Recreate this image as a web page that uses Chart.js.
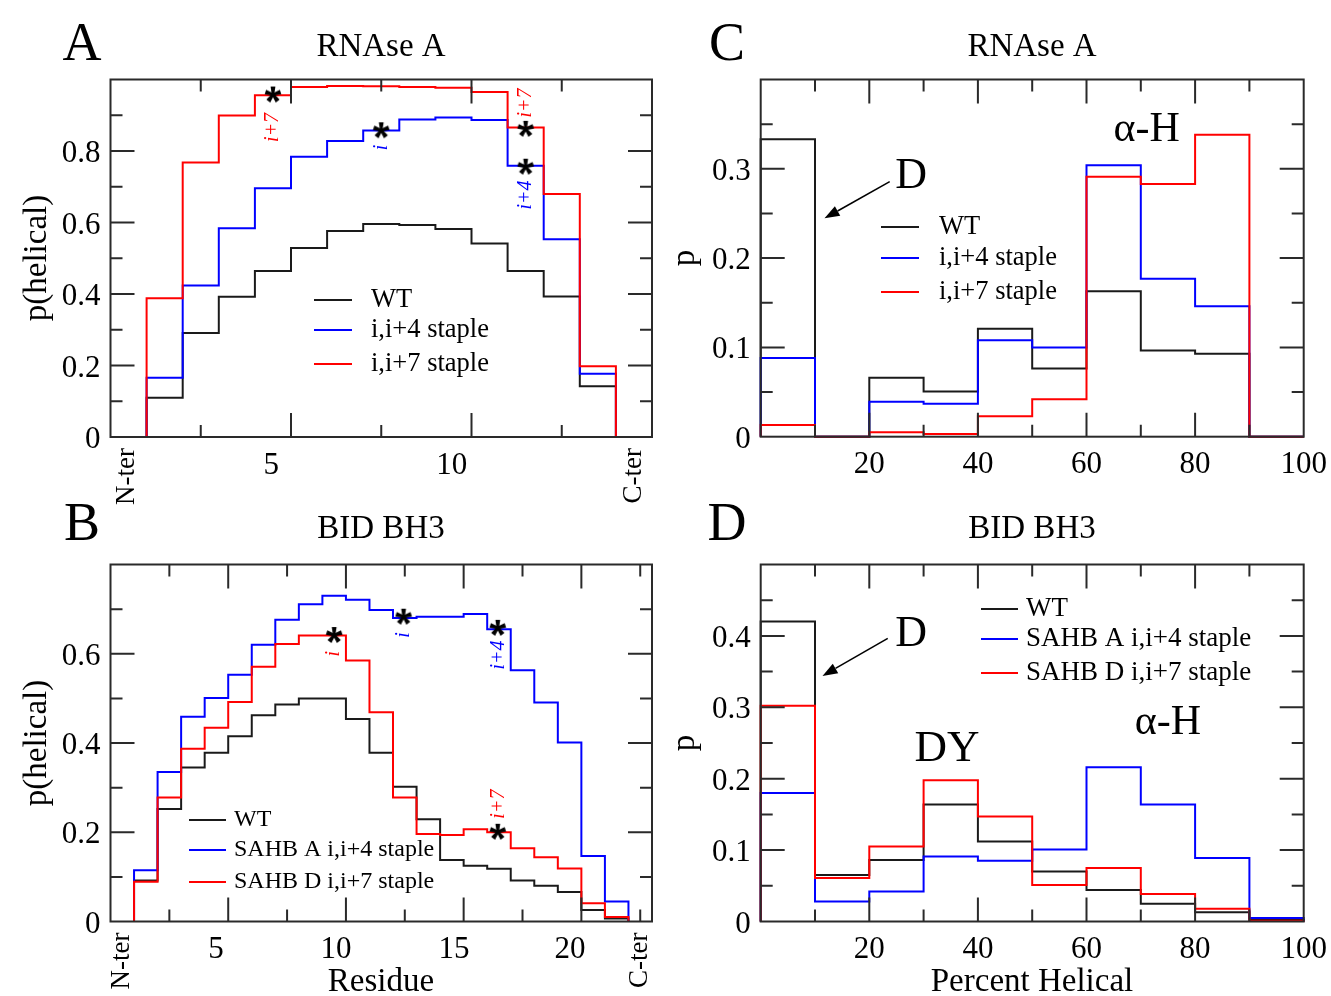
<!DOCTYPE html>
<html>
<head>
<meta charset="utf-8">
<script src="https://cdn.jsdelivr.net/npm/chart.js@4.4.0/dist/chart.umd.min.js"></script>
<style>
  html, body { margin: 0; padding: 0; background: #fff; }
  #wrap { position: relative; width: 1331px; height: 996px; }
  #wrap canvas { position: absolute; left: 0; top: 0; }
</style>
</head>
<body>
<div id="wrap">
  <canvas id="panelA" width="1331" height="996"></canvas>
  <canvas id="panelB" width="1331" height="996"></canvas>
  <canvas id="panelC" width="1331" height="996"></canvas>
  <canvas id="panelD" width="1331" height="996"></canvas>
</div>
<script>
// ── Data ─────────────────────────────────────────────────────────────────────
// A: RNAse A, per-residue helicity (bin edges on the residue axis)
const rnaseEdges = [1, 2, 3, 4, 5, 6, 7, 8, 9, 10, 11, 12, 13, 14];
const rnaseWT = [0.110, 0.291, 0.392, 0.464, 0.529, 0.576, 0.596, 0.593, 0.582, 0.541, 0.464, 0.393, 0.142];
const rnaseI4 = [0.166, 0.424, 0.584, 0.696, 0.784, 0.828, 0.857, 0.888, 0.894, 0.887, 0.759, 0.553, 0.177];
const rnaseI7 = [0.388, 0.768, 0.899, 0.956, 0.979, 0.982, 0.981, 0.979, 0.977, 0.965, 0.866, 0.680, 0.198];
const rnaseStars = [{ x: 4.5, y: 0.958 }, { x: 7.5, y: 0.858 }, { x: 11.5, y: 0.862 }, { x: 11.5, y: 0.756 }];

// B: BID BH3, per-residue helicity
const bidEdges = [1, 2, 3, 4, 5, 6, 7, 8, 9, 10, 11, 12, 13, 14, 15, 16, 17, 18, 19, 20, 21, 22];
const bidWT = [0.092, 0.252, 0.345, 0.378, 0.415, 0.462, 0.486, 0.500, 0.500, 0.454, 0.378,
               0.302, 0.229, 0.138, 0.125, 0.118, 0.092, 0.080, 0.066, 0.026, 0.007];
const bidSahbA = [0.115, 0.335, 0.459, 0.501, 0.553, 0.620, 0.676, 0.711, 0.730, 0.721, 0.698,
                  0.680, 0.683, 0.683, 0.689, 0.655, 0.563, 0.491, 0.401, 0.147, 0.045];
const bidSahbD = [0.089, 0.278, 0.387, 0.434, 0.492, 0.571, 0.622, 0.641, 0.641, 0.585, 0.469,
                  0.278, 0.196, 0.194, 0.207, 0.200, 0.164, 0.144, 0.119, 0.041, 0.010];
const bidStars = [{ x: 9.5, y: 0.642 }, { x: 12.45, y: 0.683 }, { x: 16.45, y: 0.658 }, { x: 16.45, y: 0.201 }];

// C / D: distribution of percent helical
const helicalEdges = [0, 10, 20, 30, 40, 50, 60, 70, 80, 90, 100];
const rnaseHistWT = [0.333, 0, 0.066, 0.0505, 0.121, 0.0765, 0.163, 0.0965, 0.093, 0];
const rnaseHistI4 = [0.088, 0, 0.039, 0.037, 0.108, 0.100, 0.304, 0.177, 0.146, 0];
const rnaseHistI7 = [0.013, 0, 0.005, 0.003, 0.023, 0.042, 0.291, 0.283, 0.338, 0];
const bidHistWT = [0.420, 0.065, 0.086, 0.164, 0.112, 0.070, 0.044, 0.025, 0.013, 0.002];
const bidHistA  = [0.180, 0.028, 0.042, 0.091, 0.085, 0.101, 0.216, 0.164, 0.089, 0.005];
const bidHistD  = [0.302, 0.061, 0.105, 0.198, 0.147, 0.051, 0.075, 0.0386, 0.0177, 0.001];

// ── Style ────────────────────────────────────────────────────────────────────
const SERIF = '"Liberation Serif", "Times New Roman", serif';
const C_BLACK = '#1a1a1a';
const C_BLUE = '#0000ff';
const C_RED = '#ff0000';
const C_AXIS = '#2a2a2a';

// histogram outline: up at first edge, step across every bin, down at last edge
function histPoints(edges, values) {
  const pts = [{ x: edges[0], y: 0 }];
  values.forEach((v, i) => pts.push({ x: edges[i], y: v }));
  pts.push({ x: edges[edges.length - 1], y: 0 });
  return pts;
}

function stepSet(label, color, edges, values, order) {
  return {
    label, order,
    data: histPoints(edges, values),
    borderColor: color,
    backgroundColor: color,
    borderWidth: 2,
    stepped: 'before',   // horizontal first, then vertical at the next edge
    pointRadius: 0,
    fill: false,
    clip: 4,
  };
}

function makeAsterisk(r) {
  const c = document.createElement('canvas');
  c.width = c.height = r * 2 + 4;
  const g = c.getContext('2d');
  g.translate(r + 2, r + 2);
  g.fillStyle = '#000';
  for (let k = 0; k < 5; k++) {
    g.save();
    g.rotate(k * 2 * Math.PI / 5);
    g.beginPath();
    g.moveTo(-1.2, 0); g.lineTo(-2.4, -r); g.lineTo(2.4, -r); g.lineTo(1.2, 0);
    g.closePath(); g.fill();
    g.restore();
  }
  g.beginPath(); g.arc(0, 0, 2, 0, Math.PI * 2); g.fill();
  return c;
}
const asterisk = makeAsterisk(8);

function starSet(points) {
  return {
    type: 'scatter', order: -1, data: points,
    pointStyle: asterisk, pointRadius: 8, showLine: false, clip: false,
  };
}

// ── Panel decorations (frame, ticks, texts) ─────────────────────────────────
const panels = {
  panelA: {
    pad: { left: 110.5, top: 79.5, right: 679, bottom: 559 },
    xRange: [0, 15], yRange: [0, 1.0],
    xMajor: [5, 10], xMinor: [2.5, 7.5, 12.5],
    yMajor: [0.2, 0.4, 0.6, 0.8], yMinor: [0.1, 0.3, 0.5, 0.7, 0.9],
    yLabels: [[0, '0'], [0.2, '0.2'], [0.4, '0.4'], [0.6, '0.6'], [0.8, '0.8']],
    xLabels: [[4.45, '5'], [9.45, '10']],
    xEnds: [[0.45, 'N-ter'], [14.5, 'C-ter']],
    letter: ['A', 82, 60], title: ['RNAse A', 381, 56],
    yTitle: ['p(helical)', 37, 258], xTitle: null,
    legend: { x1: 314, x2: 352, tx: 371, font: 26.5,
      rows: [[300, 'WT', C_BLACK], [330, 'i,i+4 staple', C_BLUE], [364, 'i,i+7 staple', C_RED]] },
    marks: [[4.5, 0.866, 'i+7', C_RED], [7.5, 0.81, 'i', C_BLUE], [11.5, 0.934, 'i+7', C_RED], [11.5, 0.677, 'i+4', C_BLUE]],
    bigText: [], arrow: null,
  },
  panelB: {
    pad: { left: 110.5, top: 564.5, right: 679, bottom: 74.5 },
    xRange: [0, 23], yRange: [0, 0.8],
    xMajor: [5, 10, 15, 20], xMinor: [2.5, 7.5, 12.5, 17.5, 22.5],
    yMajor: [0.2, 0.4, 0.6], yMinor: [0.1, 0.3, 0.5, 0.7],
    yLabels: [[0, '0'], [0.2, '0.2'], [0.4, '0.4'], [0.6, '0.6']],
    xLabels: [[4.48, '5'], [9.58, '10'], [14.59, '15'], [19.52, '20']],
    xEnds: [[0.49, 'N-ter'], [22.5, 'C-ter']],
    letter: ['B', 82, 540], title: ['BID BH3', 381, 538],
    yTitle: ['p(helical)', 37, 743], xTitle: ['Residue', 381, 991],
    legend: { x1: 189, x2: 226, tx: 234, font: 24,
      rows: [[820, 'WT', C_BLACK], [850, 'SAHB A i,i+4 staple', C_BLUE], [882, 'SAHB D i,i+7 staple', C_RED]] },
    marks: [[9.5, 0.60, 'i', C_RED], [12.45, 0.642, 'i', C_BLUE], [16.5, 0.597, 'i+4', C_BLUE], [16.5, 0.263, 'i+7', C_RED]],
    bigText: [], arrow: null,
  },
  panelC: {
    pad: { left: 760.7, top: 79.5, right: 27.3, bottom: 559.3 },
    xRange: [0, 100], yRange: [0, 0.4],
    xMajor: [20, 40, 60, 80], xMinor: [10, 30, 50, 70, 90],
    yMajor: [0.1, 0.2, 0.3], yMinor: [0.05, 0.15, 0.25, 0.35],
    yLabels: [[0, '0'], [0.1, '0.1'], [0.2, '0.2'], [0.3, '0.3']],
    xLabels: [[20, '20'], [40, '40'], [60, '60'], [80, '80'], [100, '100']],
    xEnds: [],
    letter: ['C', 727, 60], title: ['RNAse A', 1032, 56],
    yTitle: ['p', 685, 258], xTitle: null,
    legend: { x1: 881, x2: 919, tx: 939, font: 26.5,
      rows: [[227, 'WT', C_BLACK], [258, 'i,i+4 staple', C_BLUE], [292, 'i,i+7 staple', C_RED]] },
    marks: [],
    bigText: [[27.7, 0.291, 'D', 44], [71.1, 0.344, 'α-H', 42]],
    arrow: [23.76, 0.2856, 11.75, 0.2446],
  },
  panelD: {
    pad: { left: 760.7, top: 564.5, right: 27.3, bottom: 74.5 },
    xRange: [0, 100], yRange: [0, 0.5],
    xMajor: [20, 40, 60, 80], xMinor: [10, 30, 50, 70, 90],
    yMajor: [0.1, 0.2, 0.3, 0.4], yMinor: [0.05, 0.15, 0.25, 0.35, 0.45],
    yLabels: [[0, '0'], [0.1, '0.1'], [0.2, '0.2'], [0.3, '0.3'], [0.4, '0.4']],
    xLabels: [[20, '20'], [40, '40'], [60, '60'], [80, '80'], [100, '100']],
    xEnds: [],
    letter: ['D', 727, 540], title: ['BID BH3', 1032, 538],
    yTitle: ['p', 685, 743], xTitle: ['Percent Helical', 1032, 991],
    legend: { x1: 981, x2: 1018, tx: 1026, font: 27,
      rows: [[609, 'WT', C_BLACK], [639, 'SAHB A i,i+4 staple', C_BLUE], [673, 'SAHB D i,i+7 staple', C_RED]] },
    marks: [],
    bigText: [[27.7, 0.4027, 'D', 44], [34.3, 0.2408, 'DY', 45], [75.0, 0.2784, 'α-H', 42]],
    arrow: [23.4, 0.3966, 11.38, 0.344],
  },
};

const xmgrPlugin = {
  id: 'xmgr',
  afterDraw(chart) {
    const p = panels[chart.canvas.id];
    const { ctx, chartArea: a } = chart;
    const xs = chart.scales.x, ys = chart.scales.y;
    ctx.save();

    // frame
    ctx.strokeStyle = C_AXIS;
    ctx.lineWidth = 2;
    ctx.strokeRect(a.left, a.top, a.right - a.left, a.bottom - a.top);

    // inward ticks on all four sides
    const xTick = (v, len) => {
      const px = xs.getPixelForValue(v);
      ctx.beginPath();
      ctx.moveTo(px, a.bottom); ctx.lineTo(px, a.bottom - len);
      ctx.moveTo(px, a.top); ctx.lineTo(px, a.top + len);
      ctx.stroke();
    };
    const yTick = (v, len) => {
      const py = ys.getPixelForValue(v);
      ctx.beginPath();
      ctx.moveTo(a.left, py); ctx.lineTo(a.left + len, py);
      ctx.moveTo(a.right, py); ctx.lineTo(a.right - len, py);
      ctx.stroke();
    };
    p.xMajor.forEach(v => xTick(v, 24));
    p.xMinor.forEach(v => xTick(v, 12));
    p.yMajor.forEach(v => yTick(v, 24));
    p.yMinor.forEach(v => yTick(v, 12));

    ctx.fillStyle = '#000';
    ctx.font = `31px ${SERIF}`;
    ctx.textAlign = 'right';
    ctx.textBaseline = 'alphabetic';
    p.yLabels.forEach(([v, t]) => ctx.fillText(t, a.left - 10, ys.getPixelForValue(v) + 11));

    ctx.textAlign = 'center';
    p.xLabels.forEach(([v, t]) => ctx.fillText(t, xs.getPixelForValue(v), a.bottom + 36.5));

    // N-ter / C-ter, rotated
    ctx.font = `27px ${SERIF}`;
    p.xEnds.forEach(([v, t]) => {
      ctx.save();
      ctx.translate(xs.getPixelForValue(v), a.bottom + 11);
      ctx.rotate(-Math.PI / 2);
      ctx.textAlign = 'right';
      ctx.textBaseline = 'middle';
      ctx.fillText(t, 0, 0);
      ctx.restore();
    });

    // panel letter and title
    ctx.textAlign = 'center';
    ctx.font = `54px ${SERIF}`;
    ctx.fillText(p.letter[0], p.letter[1], p.letter[2]);
    ctx.font = `33px ${SERIF}`;
    ctx.fillText(p.title[0], p.title[1], p.title[2]);
    if (p.xTitle) ctx.fillText(p.xTitle[0], p.xTitle[1], p.xTitle[2]);

    ctx.save();
    ctx.translate(p.yTitle[1], p.yTitle[2]);
    ctx.rotate(-Math.PI / 2);
    ctx.textBaseline = 'middle';
    ctx.fillText(p.yTitle[0], 0, 0);
    ctx.restore();

    // legend
    const lg = p.legend;
    ctx.font = `${lg.font}px ${SERIF}`;
    ctx.textAlign = 'left';
    ctx.textBaseline = 'middle';
    lg.rows.forEach(([y, t, c]) => {
      ctx.strokeStyle = c;
      ctx.lineWidth = 2;
      ctx.beginPath(); ctx.moveTo(lg.x1, y); ctx.lineTo(lg.x2, y); ctx.stroke();
      ctx.fillStyle = '#000';
      ctx.fillText(t, lg.tx, y);
    });

    // staple position marks (rotated italic)
    ctx.font = `italic 20px ${SERIF}`;
    p.marks.forEach(([x, y, t, c]) => {
      ctx.save();
      ctx.translate(xs.getPixelForValue(x), ys.getPixelForValue(y));
      ctx.rotate(-Math.PI / 2);
      ctx.textAlign = 'center';
      ctx.textBaseline = 'middle';
      ctx.fillStyle = c;
      ctx.fillText(t, 0, 0);
      ctx.restore();
    });

    // big annotations
    ctx.fillStyle = '#000';
    ctx.textAlign = 'center';
    ctx.textBaseline = 'middle';
    p.bigText.forEach(([x, y, t, size]) => {
      ctx.font = `${size}px ${SERIF}`;
      ctx.fillText(t, xs.getPixelForValue(x), ys.getPixelForValue(y));
    });

    if (p.arrow) {
      const x0 = xs.getPixelForValue(p.arrow[0]), y0 = ys.getPixelForValue(p.arrow[1]);
      const x1 = xs.getPixelForValue(p.arrow[2]), y1 = ys.getPixelForValue(p.arrow[3]);
      const ang = Math.atan2(y1 - y0, x1 - x0);
      const hl = 15, hw = 5.5;
      ctx.strokeStyle = '#000';
      ctx.lineWidth = 1.6;
      ctx.beginPath();
      ctx.moveTo(x0, y0);
      ctx.lineTo(x1 - hl * Math.cos(ang), y1 - hl * Math.sin(ang));
      ctx.stroke();
      ctx.beginPath();
      ctx.moveTo(x1, y1);
      ctx.lineTo(x1 - hl * Math.cos(ang) + hw * Math.sin(ang), y1 - hl * Math.sin(ang) - hw * Math.cos(ang));
      ctx.lineTo(x1 - hl * Math.cos(ang) - hw * Math.sin(ang), y1 - hl * Math.sin(ang) + hw * Math.cos(ang));
      ctx.closePath();
      ctx.fillStyle = '#000';
      ctx.fill();
    }
    ctx.restore();
  },
};

function makePanel(id, datasets) {
  const p = panels[id];
  return new Chart(document.getElementById(id), {
    type: 'line',
    data: { datasets },
    options: {
      responsive: false,
      animation: false,
      devicePixelRatio: 1,
      layout: { padding: p.pad },
      plugins: { legend: { display: false }, tooltip: { enabled: false }, title: { display: false } },
      scales: {
        x: { type: 'linear', min: p.xRange[0], max: p.xRange[1], display: false },
        y: { type: 'linear', min: p.yRange[0], max: p.yRange[1], display: false },
      },
    },
    plugins: [xmgrPlugin],
  });
}

// ── Charts ───────────────────────────────────────────────────────────────────
makePanel('panelA', [
  stepSet('WT', C_BLACK, rnaseEdges, rnaseWT, 3),
  stepSet('i,i+4 staple', C_BLUE, rnaseEdges, rnaseI4, 2),
  stepSet('i,i+7 staple', C_RED, rnaseEdges, rnaseI7, 1),
  starSet(rnaseStars),
]);

makePanel('panelB', [
  stepSet('WT', C_BLACK, bidEdges, bidWT, 3),
  stepSet('SAHB A i,i+4 staple', C_BLUE, bidEdges, bidSahbA, 2),
  stepSet('SAHB D i,i+7 staple', C_RED, bidEdges, bidSahbD, 1),
  starSet(bidStars),
]);

makePanel('panelC', [
  stepSet('WT', C_BLACK, helicalEdges, rnaseHistWT, 3),
  stepSet('i,i+4 staple', C_BLUE, helicalEdges, rnaseHistI4, 2),
  stepSet('i,i+7 staple', C_RED, helicalEdges, rnaseHistI7, 1),
]);

makePanel('panelD', [
  stepSet('WT', C_BLACK, helicalEdges, bidHistWT, 3),
  stepSet('SAHB A i,i+4 staple', C_BLUE, helicalEdges, bidHistA, 2),
  stepSet('SAHB D i,i+7 staple', C_RED, helicalEdges, bidHistD, 1),
]);
</script>
</body>
</html>
